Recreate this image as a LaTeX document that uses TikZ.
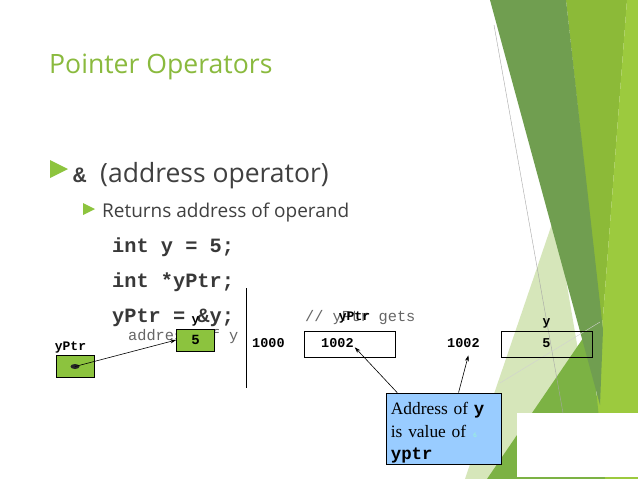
\documentclass[tikz,border=0pt]{standalone}
\usepackage{fontspec}
\setmainfont{Open Sans}
\newfontfamily\codefont{Liberation Mono}
\newfontfamily\notefont{Liberation Serif}
\usetikzlibrary{arrows.meta,positioning,calc,shapes.geometric}

\definecolor{titlegreen}{RGB}{138,186,62}
\definecolor{bulletgreen}{RGB}{141,196,62}
\definecolor{cellgreen}{RGB}{140,195,62}
\definecolor{bodygray}{RGB}{64,64,64}
\definecolor{calloutblue}{RGB}{153,204,255}
\definecolor{facetdark}{RGB}{112,158,80}
\definecolor{facetmid}{RGB}{124,178,68}
\definecolor{facetyellow}{RGB}{140,186,56}
\definecolor{facetlight}{RGB}{156,202,62}
\definecolor{facetpale}{RGB}{214,230,186}

\tikzset{
  titletext/.style={anchor=base west,inner sep=0pt,text=titlegreen,font=\fontsize{26.6}{30}\selectfont},
  bodytext/.style={anchor=base west,inner sep=0pt,text=bodygray,font=\fontsize{26.5}{30}\selectfont},
  subtext/.style={anchor=base west,inner sep=0pt,text=bodygray,font=\fontsize{19}{22}\selectfont},
  codeline/.style={anchor=base west,inner sep=0pt,text=black!78,font=\codefont\bfseries\fontsize{20.3}{22}\selectfont},
  commenttext/.style={anchor=base west,inner sep=0pt,text=black!60,font=\codefont\fontsize{15.3}{17}\selectfont},
  cellname/.style={inner sep=0pt,font=\codefont\bfseries\fontsize{13}{14}\selectfont},
  greencell/.style={draw,line width=0.7pt,fill=cellgreen,minimum width=38pt,minimum height=22pt,inner sep=0pt,
    font=\codefont\bfseries\fontsize{14}{14}\selectfont},
  ptrdot/.style={ellipse,fill=black!85,minimum width=9pt,minimum height=5pt,inner sep=0pt},
  memcell/.style={draw,line width=0.7pt,minimum width=91pt,minimum height=26pt,inner sep=0pt},
  addrtext/.style={anchor=base west,inner sep=0pt,font=\codefont\bfseries\fontsize{13.5}{14}\selectfont},
  calloutbox/.style={draw,line width=0.7pt,fill=calloutblue,minimum width=115pt,minimum height=71pt,inner sep=0pt},
  notetext/.style={inner sep=0pt,text width=108pt,align=left,font=\notefont\fontsize{17.4}{22.5}\selectfont},
  ptrarrow/.style={-{Stealth[length=6pt,width=4pt]},line width=0.6pt}
}

\begin{document}
\begin{tikzpicture}[x=1pt,y=-1pt]
\useasboundingbox (0,0) rectangle (638,479);
\fill[white] (0,0) rectangle (638,479);

% facet bands on the right
\fill[facetyellow] (566,0) -- (627,0) -- (602,330) -- cycle;
\fill[facetlight] (627,0) -- (638,0) -- (638,479) -- (590,479) -- (602,330) -- cycle;
\fill[facetpale] (555,215) -- (600,479) -- (465,479) -- cycle;
\fill[facetmid] (487,479) -- (590,328) -- (605,479) -- cycle;
\fill[facetdark] (490,0) -- (566,0) -- (603,330) -- (600,405) -- cycle;
\fill[white] (517,413) rectangle (638,477);
\draw[black!35,line width=0.4pt] (494,25) -- (563,413);
\draw[black!18,line width=0.4pt] (500,383) -- (600,322);

% title and bullets
\node[titletext] (title) at (49,73) {Pointer Operators};
\fill[bulletgreen] (50,160) -- (68,169) -- (50,178) -- cycle;
\node[codeline,text=bodygray,font=\codefont\bfseries\fontsize{22}{24}\selectfont] (amp) at (73,182) {\&};
\node[bodytext] (lvl1) at (100,182) {(address operator)};
\fill[bulletgreen] (83,203) -- (95,209) -- (83,215) -- cycle;
\node[subtext] (lvl2) at (102,217) {Returns address of operand};

% code
\node[codeline] (decl) at (112,252) {int y = 5;};
\node[codeline] (ptrdecl) at (112,287) {int *yPtr;};
\node[codeline] (assign) at (112,322) {yPtr = \&y;};
\node[commenttext] (cmt1) at (305,321) {// yPtr gets};
\node[commenttext] (cmt2) at (128,340) {address of y};

\draw[line width=0.7pt] (246,288) -- (246,388);

% left picture
\node[greencell] (ptrcell) at (75,366.5) {};
\node[ptrdot] (dot) at (ptrcell.center) {};
\node[greencell] (ycell) at (195.5,340) {5};
\node[cellname,above=2pt of ycell] (yname) {y};
\node[cellname,above right=1.5pt and -1pt of ptrcell.north west] (ptrname) {yPtr};
\draw[ptrarrow] (dot.center) -- (ycell.west);

% memory row
\node[addrtext] (addr1000) at (252,347) {1000};
\node[memcell] (ptrmem) at (349.5,344) {};
\node[addrtext] (ptrval) at (321,347) {1002};
\node[cellname,above=7pt of ptrmem,xshift=5pt] (ptrmemname) {yPtr};
\node[addrtext] (addr1002) at (447,347) {1002};
\node[memcell] (ymem) at (546.5,344) {};
\node[addrtext,anchor=base] (yval) at (546.5,347) {5};
\node[cellname,above=2pt of ymem] (ymemname) {y};

% callout
\node[calloutbox] (callout) at (443.5,428.5) {};
\node[notetext,below right=9.7pt and 5pt of callout.north west] (note)
  {Address of {\codefont\bfseries y}\\is value of\\{\codefont\bfseries yptr}};
\node[inner sep=0pt,text=green!50!cyan!40,font=\fontsize{6}{6}\selectfont] (pgnum) at (475,435) {6};
\draw[ptrarrow] ($(callout.north west)!0.1!(callout.north east)$) -- ($(ptrval.south east)+(1,0)$);
\draw[ptrarrow] ($(callout.north west)!0.63!(callout.north east)$) -- ($(addr1002.south)+(5,8)$);
\end{tikzpicture}
\end{document}
